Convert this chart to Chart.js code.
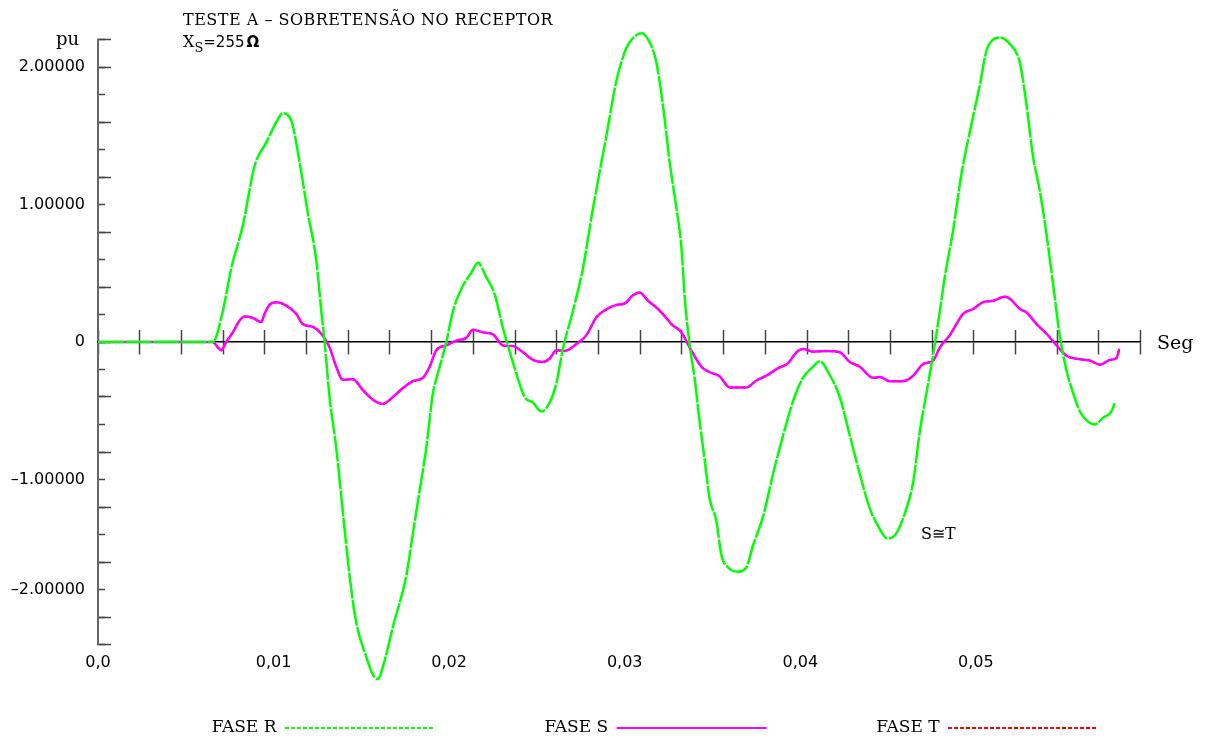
<!DOCTYPE html>
<html lang="pt">
<head>
<meta charset="utf-8">
<title>Teste A – Sobretensão no receptor</title>
<script src="https://cdn.jsdelivr.net/npm/chart.js@4.4.1/dist/chart.umd.min.js"></script>
<style>
  html, body { margin: 0; padding: 0; background: #fff; }
  #wrap { position: relative; width: 1206px; height: 740px; }
  #grafico { position: absolute; left: 0; top: 0; }
  .lbl { position: absolute; white-space: nowrap; color: #000; font-family: 'DejaVu Serif', serif; }
</style>
</head>
<body>
<div id="wrap">
  <canvas id="grafico" width="1206" height="740"></canvas>
  <div class="lbl" style="left:183px; top:11.5px; font-size:16px; line-height:16px; letter-spacing:0.5px;">TESTE A – SOBRETENSÃO NO RECEPTOR</div>
  <div class="lbl" style="left:183px; top:33.5px; font-size:16px; line-height:16px;">X<span style="font-size:13px; position:relative; top:5px;">S</span><span style="font-family:'DejaVu Sans', sans-serif; font-size:15px;">=255</span><span style="font-family:'DejaVu Sans', sans-serif; font-weight:bold; font-size:15px; margin-left:2px;">Ω</span></div>
  <div class="lbl" style="left:56px; top:30px; font-size:18px; line-height:18px;">pu</div>
  <div class="lbl" style="left:1157px; top:333px; font-size:19px; line-height:19px;">Seg</div>
  <div class="lbl" style="left:921px; top:525.5px; font-size:16px; line-height:16px;">S≅T</div>
</div>
<script>
// Tempo (s) e tensão (pu) – fase R
const tempoR = [0, 0.00654, 0.00711, 0.00759, 0.00825, 0.00892, 0.00958, 0.01025, 0.01053, 0.01101,
  0.01148, 0.01195, 0.01243, 0.01272, 0.01291, 0.01319, 0.01357, 0.01395, 0.01433, 0.01471,
  0.01528, 0.01566, 0.01594, 0.01632, 0.01680, 0.01756, 0.01794, 0.01832, 0.01870, 0.01908,
  0.01927, 0.01984, 0.02022, 0.02079, 0.02127, 0.02164, 0.02212, 0.02259, 0.02307, 0.02364,
  0.02430, 0.02477, 0.02525, 0.02573, 0.02611, 0.02648, 0.02705, 0.02762, 0.02819, 0.02896,
  0.02953, 0.03010, 0.03047, 0.03095, 0.03142, 0.03181, 0.03218, 0.03256, 0.03295, 0.03323,
  0.03342, 0.03370, 0.03399, 0.03427, 0.03456, 0.03484, 0.03522, 0.03551, 0.03589, 0.03646,
  0.03693, 0.03731, 0.03788, 0.03845, 0.03902, 0.03959, 0.04016, 0.04073, 0.04111, 0.04168,
  0.04225, 0.04282, 0.04339, 0.04396, 0.04453, 0.04497, 0.04548, 0.04605, 0.04643, 0.04681,
  0.04719, 0.04757, 0.04795, 0.04823, 0.04871, 0.04918, 0.04966, 0.05023, 0.05061, 0.05099,
  0.05137, 0.05184, 0.05251, 0.05289, 0.05327, 0.05365, 0.05403, 0.05441, 0.05479, 0.05517,
  0.05554, 0.05593, 0.05631, 0.05678, 0.05725, 0.05773, 0.05792];
const faseR = [0, 0, 0.225, 0.535, 0.847, 1.28, 1.45, 1.62, 1.664, 1.61,
  1.31, 0.94, 0.60, 0.225, 0, -0.40, -0.77, -1.24, -1.70, -2.04,
  -2.29, -2.42, -2.45, -2.32, -2.07, -1.70, -1.39, -1.08, -0.77, -0.37,
  -0.27, 0, 0.225, 0.41, 0.505, 0.576, 0.47, 0.35, 0.10, -0.15,
  -0.40, -0.44, -0.505, -0.44, -0.30, -0.05, 0.225, 0.535, 0.97, 1.50,
  1.90, 2.14, 2.21, 2.245, 2.18, 2.03, 1.72, 1.31, 0.97, 0.69,
  0.32, -0.02, -0.27, -0.58, -0.86, -1.14, -1.30, -1.55, -1.64, -1.67,
  -1.64, -1.48, -1.27, -0.96, -0.68, -0.43, -0.26, -0.18, -0.14, -0.24,
  -0.40, -0.68, -0.96, -1.21, -1.36, -1.43, -1.39, -1.21, -1.02, -0.65,
  -0.37, -0.09, 0.225, 0.47, 0.815, 1.22, 1.53, 1.87, 2.12, 2.20,
  2.215, 2.18, 2.03, 1.72, 1.34, 1.095, 0.78, 0.41, 0.04, -0.21,
  -0.37, -0.505, -0.57, -0.60, -0.55, -0.505, -0.44];

// Tempo (s) e tensão (pu) – fase S
const tempoS = [0, 0.00654, 0.00683, 0.00702, 0.00730, 0.00768, 0.00806, 0.00835, 0.00882, 0.00930,
  0.00949, 0.00977, 0.01015, 0.01072, 0.01129, 0.01167, 0.01224, 0.01272, 0.01319, 0.01357,
  0.01395, 0.01452, 0.01509, 0.01566, 0.01623, 0.01680, 0.01737, 0.01794, 0.01851, 0.01889,
  0.01927, 0.01984, 0.02041, 0.02098, 0.02136, 0.02193, 0.02250, 0.02307, 0.02364, 0.02421,
  0.02477, 0.02534, 0.02573, 0.02611, 0.02658, 0.02725, 0.02782, 0.02839, 0.02886, 0.02953,
  0.03000, 0.03047, 0.03085, 0.03133, 0.03190, 0.03247, 0.03266, 0.03323, 0.03370, 0.03437,
  0.03484, 0.03541, 0.03598, 0.03693, 0.03750, 0.03807, 0.03874, 0.03930, 0.03978, 0.04016,
  0.04073, 0.04149, 0.04225, 0.04282, 0.04339, 0.04415, 0.04453, 0.04510, 0.04586, 0.04643,
  0.04700, 0.04757, 0.04795, 0.04852, 0.04928, 0.04985, 0.05042, 0.05099, 0.05165, 0.05194,
  0.05251, 0.05289, 0.05346, 0.05403, 0.05460, 0.05517, 0.05593, 0.05650, 0.05707, 0.05764,
  0.05802, 0.05817];
const faseS = [0, 0, -0.04, -0.06, 0, 0.07, 0.155, 0.185, 0.175, 0.145,
  0.205, 0.27, 0.29, 0.265, 0.205, 0.13, 0.11, 0.06, -0.04, -0.18,
  -0.275, -0.27, -0.35, -0.42, -0.45, -0.40, -0.335, -0.285, -0.26, -0.18,
  -0.06, -0.025, 0.01, 0.03, 0.09, 0.07, 0.055, -0.025, -0.03, -0.075,
  -0.13, -0.145, -0.12, -0.06, -0.065, -0.015, 0.05, 0.18, 0.23, 0.27,
  0.28, 0.34, 0.36, 0.30, 0.24, 0.16, 0.13, 0.07, -0.04, -0.18,
  -0.22, -0.25, -0.33, -0.33, -0.28, -0.245, -0.19, -0.155, -0.075, -0.05,
  -0.07, -0.065, -0.075, -0.145, -0.18, -0.26, -0.255, -0.285, -0.285, -0.245,
  -0.16, -0.135, -0.04, 0.05, 0.205, 0.24, 0.29, 0.30, 0.33, 0.315,
  0.24, 0.215, 0.13, 0.06, -0.025, -0.10, -0.125, -0.135, -0.165, -0.13,
  -0.115, -0.05];

// Fase T praticamente coincide com a fase S (S≅T)
const tempoT = tempoS;
const faseT = faseS;

// Eixos
const tempoMax = 0.05939;
const divisoesTempo = 25;
const xTickValues = [0, 0.01, 0.02, 0.03, 0.04, 0.05];
const xTickLabels = ['0,0', '0,01', '0,02', '0,03', '0,04', '0,05'];
const yMin = -2.2;
const yMax = 2.2;
const yLabelValues = [2, 1, 0, -1, -1.8];
const yLabelTexts = ['2.00000', '1.00000', '0', '–1.00000', '–2.00000'];

const pares = (ts, vs) => ts.map((t, i) => ({ x: t, y: vs[i] }));

const yTodos = [];
for (let i = -11; i <= 11; i++) yTodos.push(Math.round(i * 2) / 10);
const yLongos = yTodos.filter(v => Math.round(v * 10) % 4 === 0 || Math.abs(v) > 2.1);
const xDivisoes = [];
for (let k = 0; k <= divisoesTempo; k++) xDivisoes.push({ value: tempoMax * k / divisoesTempo });

function rotuloY(v) {
  const i = yLabelValues.findIndex(l => Math.abs(l - v) < 1e-6);
  return i >= 0 ? yLabelTexts[i] : '';
}

const tracoLegenda = [[4, 2], [], [4, 2]];

// Coloca a linha da legenda no rodapé, deslocada para a direita
const posicionaLegenda = {
  id: 'posicionaLegenda',
  afterLayout(chart) {
    const lg = chart.legend;
    if (!lg) return;
    const pad = lg.options.labels.padding;
    lg.top = 728 - pad - 8.5;
    lg.bottom = chart.height;
    lg.left += 84.5;
    lg.right += 84.5;
  }
};

const eixoZero = (comprimento, borda) => ({
  type: 'linear', axis: 'x', position: { y: 0 }, min: 0, max: tempoMax,
  afterBuildTicks: s => { s.ticks = xDivisoes.map(t => ({ value: t.value })); },
  ticks: { display: false },
  grid: { drawOnChartArea: false, drawTicks: true, tickLength: comprimento, tickColor: '#444', tickWidth: 1.5 },
  border: { display: borda, color: '#000', width: 1.5 }
});

new Chart(document.getElementById('grafico'), {
  type: 'line',
  data: {
    datasets: [
      { label: 'FASE R', data: pares(tempoR, faseR), borderColor: '#00ff00', borderWidth: 2.5,
        borderDash: [26, 1.5], pointRadius: 0, clip: false, cubicInterpolationMode: 'monotone',
        order: 0, xAxisID: 'x', yAxisID: 'y' },
      { label: 'FASE S', data: pares(tempoS, faseS), borderColor: '#ff00ff', borderWidth: 2.5,
        pointRadius: 0, clip: false, cubicInterpolationMode: 'monotone',
        order: 1, xAxisID: 'x', yAxisID: 'y' },
      { label: 'FASE T', data: pares(tempoT, faseT), borderColor: '#ff0000', borderWidth: 2,
        borderDash: [4, 2], pointRadius: 0, clip: false, cubicInterpolationMode: 'monotone',
        order: 2, xAxisID: 'x', yAxisID: 'y' }
    ]
  },
  options: {
    responsive: false,
    animation: false,
    devicePixelRatio: 1,
    layout: { padding: { top: 39.5, right: 65.3, bottom: 20.5, left: 0 } },
    plugins: {
      tooltip: { enabled: false },
      title: { display: false },
      legend: {
        position: 'bottom',
        rtl: true,
        textDirection: 'ltr',
        reverse: true,
        maxHeight: 40,
        labels: {
          usePointStyle: true,
          pointStyleWidth: 150,
          padding: 109.5,
          color: '#000',
          font: { family: 'DejaVu Serif', size: 17 },
          generateLabels: chart => chart.data.datasets.map((ds, i) => ({
            text: ds.label,
            fillStyle: ds.borderColor,
            strokeStyle: ds.borderColor,
            lineWidth: 2,
            lineDash: tracoLegenda[i],
            pointStyle: 'line',
            hidden: false,
            datasetIndex: i,
            fontColor: '#000'
          }))
        }
      }
    },
    scales: {
      x: {
        type: 'linear', position: 'bottom', min: 0, max: tempoMax,
        afterBuildTicks: s => { s.ticks = xTickValues.map(v => ({ value: v })); },
        afterFit: s => { s.height = 35; },
        grid: { display: false, drawTicks: false },
        border: { display: false },
        ticks: {
          autoSkip: false, maxRotation: 0, padding: 9, color: '#000',
          font: { family: 'DejaVu Sans', size: 16 },
          callback: (v, i) => xTickLabels[i]
        }
      },
      y: {
        type: 'linear', position: 'left', min: yMin, max: yMax,
        afterBuildTicks: s => { s.ticks = yTodos.map(v => ({ value: v })); },
        afterFit: s => { s.width = 98; },
        grid: { drawOnChartArea: false, drawTicks: true, tickLength: -7, tickColor: '#444', tickWidth: 1.5 },
        border: { display: true, color: '#666', width: 2 },
        ticks: {
          autoSkip: false, padding: 20, color: '#000',
          font: { family: 'DejaVu Sans', size: 16 },
          callback: v => rotuloY(v)
        }
      },
      yLongos: {
        type: 'linear', axis: 'y', position: { x: 0 }, min: yMin, max: yMax,
        afterBuildTicks: s => { s.ticks = yLongos.map(v => ({ value: v })); },
        ticks: { display: false },
        grid: { drawOnChartArea: false, drawTicks: true, tickLength: -13, tickColor: '#444', tickWidth: 1.5 },
        border: { display: false }
      },
      xZeroBaixo: eixoZero(12, true),
      xZeroCima: eixoZero(-12, false)
    }
  },
  plugins: [posicionaLegenda]
});
</script>
</body>
</html>
